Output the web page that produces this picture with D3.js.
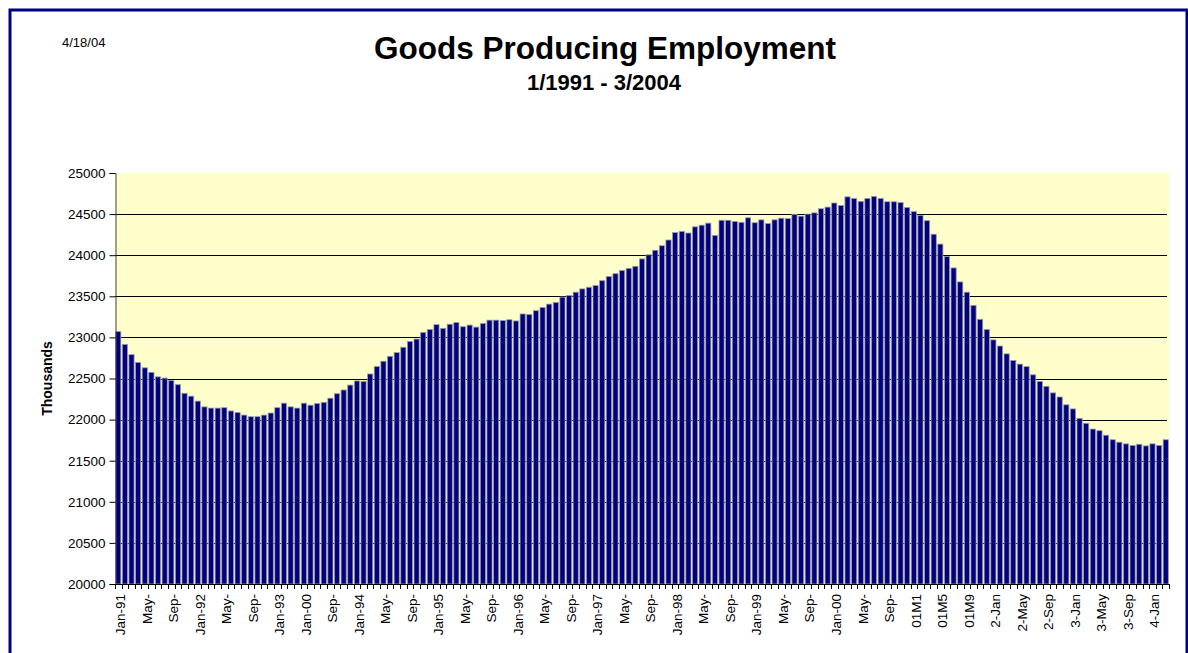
<!DOCTYPE html>
<html>
<head>
<meta charset="utf-8">
<script src="https://cdn.jsdelivr.net/npm/d3@7/dist/d3.min.js"></script>
<style>
  body { margin: 0; background: #fff; }
  svg { display: block; font-family: Arial, 'Liberation Sans', sans-serif; }
</style>
</head>
<body>
<div id="chart"></div>
<script>
// monthly values, Jan 1991 - Mar 2004 (thousands)
var values = [
    23070, 22915, 22790, 22695, 22630, 22575, 22520, 22505, 22475, 22425, 22320, 22285,
    22225, 22155, 22140, 22140, 22145, 22105, 22085, 22055, 22035, 22035, 22055, 22080,
    22145, 22200, 22155, 22140, 22200, 22175, 22195, 22210, 22260, 22315, 22360, 22420,
    22470, 22465, 22555, 22645, 22710, 22770, 22815, 22880, 22950, 22980, 23060, 23095,
    23155, 23110, 23160, 23180, 23130, 23150, 23125, 23170, 23210, 23210, 23205, 23215,
    23200, 23285, 23280, 23325, 23365, 23405, 23425, 23490, 23510, 23550, 23590, 23610,
    23630, 23690, 23740, 23775, 23815, 23840, 23865, 23955, 24005, 24060, 24115, 24185,
    24275, 24290, 24270, 24345, 24365, 24390, 24240, 24425, 24425, 24410, 24400, 24455,
    24395, 24430, 24385, 24430, 24450, 24445, 24495, 24475, 24500, 24515, 24565, 24585,
    24635, 24605, 24710, 24690, 24655, 24690, 24715, 24690, 24650, 24650, 24640, 24580,
    24530, 24485, 24420, 24255, 24135, 23985, 23845, 23675, 23550, 23390, 23220, 23095,
    22970, 22895, 22800, 22720, 22675, 22645, 22545, 22465, 22405, 22325, 22275, 22180,
    22130, 22015, 21955, 21885, 21865, 21810, 21755, 21725, 21705, 21685, 21700, 21680,
    21705, 21685, 21755
];

// one label every 4th month, as printed on the sheet
var tickLabels = [
    'Jan-91', 'May-', 'Sep-', 'Jan-92', 'May-', 'Sep-', 'Jan-93', 'Jan-00', 'Sep-',
    'Jan-94', 'May-', 'Sep-', 'Jan-95', 'May-', 'Sep-', 'Jan-96', 'May-', 'Sep-',
    'Jan-97', 'May-', 'Sep-', 'Jan-98', 'May-', 'Sep-', 'Jan-99', 'May-', 'Sep-',
    'Jan-00', 'May-', 'Sep-', '01M1', '01M5', '01M9', '2-Jan', '2-May', '2-Sep',
    '3-Jan', '3-May', '3-Sep', '4-Jan'
];

var yTicks = [20000, 20500, 21000, 21500, 22000, 22500, 23000, 23500, 24000, 24500, 25000];

var W = 1188, H = 653;
var plotLeft = 115, plotRight = 1169, plotTop = 173, plotBottom = 584;

var svg = d3.select('#chart').append('svg')
    .attr('width', W)
    .attr('height', H);

// outer frame
svg.append('rect')
    .attr('x', 10).attr('y', 10)
    .attr('width', 1177).attr('height', 700)
    .attr('fill', 'none')
    .attr('stroke', '#000080')
    .attr('stroke-width', 3);

svg.append('text')
    .attr('x', 62).attr('y', 47)
    .attr('font-size', 13)
    .text('4/18/04');

svg.append('text')
    .attr('x', 605).attr('y', 59)
    .attr('text-anchor', 'middle')
    .attr('font-size', 31.5)
    .attr('font-weight', 'bold')
    .text('Goods Producing Employment');

svg.append('text')
    .attr('x', 604).attr('y', 90)
    .attr('text-anchor', 'middle')
    .attr('font-size', 22)
    .attr('font-weight', 'bold')
    .text('1/1991 - 3/2004');

var idx = d3.range(values.length);

var x = d3.scaleBand()
    .domain(idx)
    .range([plotLeft, plotRight])
    .paddingInner(0.22)
    .paddingOuter(0.1);

var y = d3.scaleLinear()
    .domain([20000, 25000])
    .range([plotBottom, plotTop]);

// plot background
svg.append('rect')
    .attr('x', plotLeft).attr('y', plotTop)
    .attr('width', plotRight - plotLeft).attr('height', plotBottom - plotTop)
    .attr('fill', '#ffffcc');

// gridlines
svg.append('g')
    .selectAll('line')
    .data(yTicks.filter(function(d) { return d > 20000 && d < 25000; }))
    .enter()
    .append('line')
    .attr('x1', plotLeft).attr('x2', plotRight - 2)
    .attr('y1', function(d) { return Math.round(y(d)) + 0.5; })
    .attr('y2', function(d) { return Math.round(y(d)) + 0.5; })
    .attr('stroke', '#000')
    .attr('stroke-width', 1);

// bars
svg.append('g')
    .selectAll('rect')
    .data(values)
    .enter()
    .append('rect')
    .attr('x', function(d, i) { return x(i); })
    .attr('width', x.bandwidth())
    .attr('y', function(d) { return y(d); })
    .attr('height', function(d) { return plotBottom - y(d); })
    .attr('fill', '#000080')
    .attr('stroke', '#9a9aa8')
    .attr('stroke-width', 0.8);

// y axis
var yAxis = d3.axisLeft(y)
    .tickValues(yTicks)
    .tickSize(6)
    .tickFormat(d3.format('d'));

var gy = svg.append('g')
    .attr('transform', 'translate(' + (plotLeft + 0.5) + ',0)')
    .call(yAxis);
gy.select('.domain').attr('stroke', '#404040');
gy.selectAll('text')
    .attr('font-size', 13.5)
    .attr('font-family', 'Arial, Liberation Sans')
    .attr('fill', '#000')
    .attr('x', -10);

// x axis: tick marks at each month boundary
var step = x.step();
var x0 = x(0) - step * x.paddingInner() / 2;
var xt = svg.append('g');
xt.append('line')
    .attr('x1', plotLeft).attr('x2', plotRight)
    .attr('y1', plotBottom + 0.5).attr('y2', plotBottom + 0.5)
    .attr('stroke', '#000');
xt.selectAll('line.tk')
    .data(d3.range(values.length + 1))
    .enter()
    .append('line')
    .attr('class', 'tk')
    .attr('x1', function(i) { return Math.round(x0 + i * step) + 0.5; })
    .attr('x2', function(i) { return Math.round(x0 + i * step) + 0.5; })
    .attr('y1', plotBottom).attr('y2', plotBottom + 5)
    .attr('stroke', '#000');

xt.selectAll('text')
    .data(tickLabels)
    .enter()
    .append('text')
    .attr('transform', function(d, k) {
        var cx = x(k * 4) + x.bandwidth() / 2 + 2;
        return 'translate(' + cx + ',' + (plotBottom + 10) + ') rotate(-90)';
    })
    .attr('text-anchor', 'end')
    .attr('dy', '0.35em')
    .attr('font-size', 13.5)
    .text(function(d) { return d; });

svg.append('text')
    .attr('transform', 'translate(52,' + ((plotTop + plotBottom) / 2) + ') rotate(-90)')
    .attr('text-anchor', 'middle')
    .attr('font-size', 14)
    .attr('font-weight', 'bold')
    .text('Thousands');
</script>
</body>
</html>
